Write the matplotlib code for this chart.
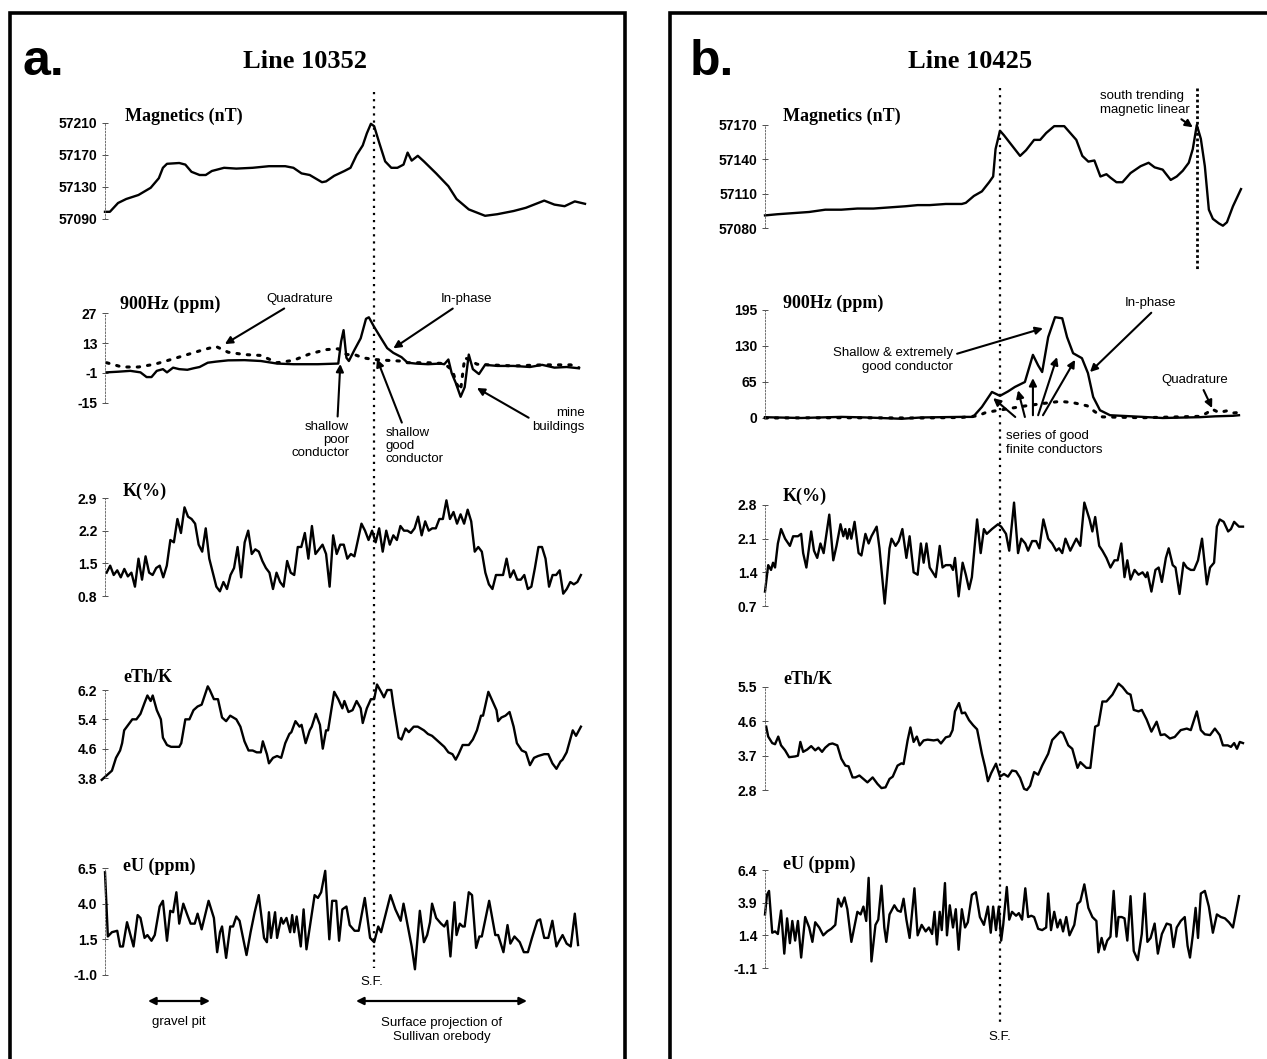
import matplotlib.pyplot as plt
from matplotlib.lines import Line2D
from matplotlib.patches import Rectangle
import numpy as np

W, H = 1267, 1059

# ---------------- Line 10352 (panel a) ----------------
mag_a_fid = [258, 270, 290, 310, 340, 370, 390, 400, 410, 440, 455, 470, 490, 505, 520, 550, 580, 620, 660, 700,
             720, 740, 760, 790, 800, 820, 845, 860, 875, 890, 900, 910, 918, 930, 945, 960, 975, 990, 1000, 1010,
             1025, 1040, 1070, 1100, 1120, 1150, 1190, 1220, 1260, 1290, 1310, 1335, 1360, 1385, 1410, 1435]
mag_a = [57099, 57099, 57110, 57115, 57120, 57129, 57141, 57154, 57159, 57160, 57158, 57149, 57145, 57145, 57150,
         57154, 57153, 57154, 57156, 57156, 57154, 57147, 57145, 57136, 57137, 57144, 57150, 57154, 57170, 57182,
         57197, 57209, 57206, 57186, 57162, 57154, 57154, 57158, 57173, 57163, 57169, 57162, 57147, 57131, 57115,
         57102, 57094, 57096, 57100, 57104, 57108, 57113, 57108, 57106, 57112, 57109]

hz_a_fid = [262, 290, 320, 345, 360, 372, 385, 400, 410, 425, 440, 460, 475, 490, 510, 530, 560, 600, 640, 680,
            720, 780, 830, 837, 843, 850, 856, 870, 885, 898, 905, 918, 935, 950, 965, 985, 1000, 1020, 1050, 1080,
            1090, 1100, 1108, 1118, 1130, 1140, 1150, 1160, 1175, 1190, 1220, 1260, 1300, 1330, 1360, 1390, 1420]
hz_a_inphase = [-0.7, -0.4, 0.0, -0.7, -2.9, -2.9, 0.0, 0.8, -0.7, 1.5, 0.8, 0.5, 1.2, 1.8, 3.8, 4.3, 4.9, 5.0,
                4.6, 3.4, 3.1, 3.1, 3.4, 13.7, 19.0, 6.1, 4.6, 9.9, 15.2, 24.3, 25.0, 20.5, 15.2, 10.6, 8.4, 6.4,
                3.8, 3.4, 3.1, 3.4, 3.1, 5.3, -1.0, -5.6, -12.1, -7.6, 7.6, 0.8, -1.5, 2.8, 2.3, 2.3, 1.8, 2.8,
                1.5, 1.8, 1.2]
hz_a_quad_fid = [262, 300, 340, 380, 420, 460, 500, 530, 560, 600, 640, 680, 720, 760, 800, 830, 850, 870, 890,
                 918, 950, 980, 1000, 1050, 1090, 1110, 1120, 1130, 1140, 1150, 1170, 1200, 1260, 1330, 1400, 1420]
hz_a_quad = [3.8, 1.8, 1.8, 3.1, 5.3, 7.6, 9.9, 11.4, 8.7, 7.6, 7.2, 3.8, 4.9, 7.9, 9.9, 10.3, 7.6, 7.6, 6.1,
             5.3, 4.9, 4.6, 3.8, 3.8, 3.4, 0.2, -6.0, -9.0, 6.1, 5.3, 3.1, 2.8, 2.3, 2.8, 2.8, 1.5]

k_a = [1.3, 1.45, 1.25, 1.35, 1.2, 1.38, 1.22, 1.3, 1.0, 1.6, 1.15, 1.65, 1.3, 1.25, 1.4, 1.45, 1.2, 1.45, 2.0,
       1.95, 2.45, 2.15, 2.7, 2.5, 2.45, 2.35, 1.9, 1.75, 2.25, 1.6, 1.3, 1.0, 0.9, 1.1, 0.95, 1.25, 1.4, 1.85,
       1.2, 1.95, 2.2, 1.7, 1.8, 1.75, 1.55, 1.4, 1.3, 0.95, 1.3, 1.1, 1.0, 1.55, 1.3, 1.25, 1.85, 1.85, 2.15,
       1.6, 2.3, 1.7, 1.8, 1.9, 1.7, 1.0, 2.1, 1.7, 1.9, 1.9, 1.6, 1.7, 1.65, 2.0, 2.35, 2.2, 2.0, 2.2, 1.95,
       2.25, 1.75, 2.2, 1.9, 2.1, 2.0, 2.3, 2.2, 2.2, 2.15, 2.25, 2.5, 2.1, 2.4, 2.2, 2.25, 2.25, 2.45, 2.45,
       2.85, 2.45, 2.6, 2.35, 2.55, 2.35, 2.65, 2.4, 1.75, 1.85, 1.75, 1.3, 1.05, 0.95, 1.25, 1.25, 1.25, 1.6,
       1.2, 1.35, 1.15, 1.15, 1.25, 0.95, 1.0, 1.4, 1.85, 1.85, 1.6, 1.0, 1.25, 1.25, 1.35, 0.85, 0.95, 1.1,
       1.05, 1.1, 1.25]
k_a_fid = np.linspace(262, 1425, len(k_a))

eth_a_fid = [250, 265, 275, 285, 295, 300, 305, 315, 325, 335, 345, 355, 362, 370, 375, 385, 395, 400, 410, 420,
             440, 445, 455, 465, 475, 485, 495, 510, 515, 525, 535, 545, 555, 565, 580, 590, 600, 610, 620, 630,
             640, 645, 655, 660, 670, 680, 690, 700, 710, 715, 725, 735, 740, 750, 760, 765, 775, 785, 792, 800,
             805, 820, 830, 840, 845, 855, 865, 875, 885, 890, 900, 910, 918, 925, 935, 942, 950, 960, 965, 978,
             985, 995, 1003, 1015, 1025, 1040, 1050, 1060, 1070, 1080, 1090, 1100, 1110, 1118, 1125, 1135, 1150,
             1160, 1170, 1180, 1185, 1198, 1210, 1218, 1222, 1230, 1240, 1250, 1260, 1268, 1280, 1290, 1300, 1310,
             1320, 1335, 1345, 1355, 1365, 1375, 1380, 1390, 1400, 1405, 1413, 1425]
eth_a = [3.75, 3.9, 4.0, 4.35, 4.55, 4.75, 5.1, 5.25, 5.4, 5.4, 5.55, 5.85, 6.05, 5.9, 6.05, 5.65, 5.4, 4.9, 4.7,
         4.65, 4.65, 4.75, 5.4, 5.4, 5.65, 5.75, 5.8, 6.3, 6.2, 5.95, 5.95, 5.45, 5.35, 5.5, 5.4, 5.2, 4.8, 4.55,
         4.55, 4.5, 4.5, 4.8, 4.45, 4.2, 4.35, 4.4, 4.35, 4.75, 5.0, 5.05, 5.35, 5.2, 5.25, 4.75, 5.1, 5.2, 5.55,
         5.25, 4.6, 5.1, 5.1, 6.15, 5.95, 5.7, 5.9, 5.6, 5.65, 5.9, 5.7, 5.3, 5.7, 5.95, 5.95, 6.35, 6.15, 6.0,
         6.2, 6.2, 5.8, 4.9, 4.85, 5.15, 5.05, 5.2, 5.2, 5.1, 5.0, 4.95, 4.85, 4.75, 4.65, 4.5, 4.45, 4.3, 4.45,
         4.7, 4.7, 4.85, 5.1, 5.5, 5.5, 6.15, 5.85, 5.65, 5.35, 5.45, 5.5, 5.6, 5.2, 4.75, 4.55, 4.5, 4.15, 4.35,
         4.4, 4.45, 4.45, 4.2, 4.05, 4.25, 4.3, 4.5, 4.9, 5.1, 4.95, 5.2]

eu_a_fid = [258, 265, 275, 288, 295, 302, 312, 328, 338, 345, 355, 362, 372, 380, 392, 400, 410, 418, 425, 433,
            440, 450, 460, 468, 478, 485, 495, 512, 525, 533, 540, 545, 555, 565, 572, 580, 588, 605, 615, 625,
            635, 648, 655, 660, 665, 675, 680, 690, 695, 703, 712, 717, 722, 728, 738, 745, 752, 772, 780, 788,
            798, 808, 815, 825, 832, 840, 850, 858, 870, 880, 895, 908, 918, 928, 935, 958, 970, 983, 990, 1000,
            1010, 1018, 1030, 1040, 1048, 1055, 1060, 1070, 1082, 1090, 1097, 1105, 1115, 1120, 1128, 1135, 1140,
            1150, 1158, 1168, 1176, 1182, 1200, 1215, 1222, 1235, 1245, 1252, 1262, 1275, 1285, 1295, 1305, 1318,
            1325, 1335, 1345, 1355, 1365, 1370, 1380, 1390, 1400, 1410, 1418]
eu_a = [6.2, 1.7, 2.0, 2.1, 1.0, 1.0, 2.7, 1.0, 3.2, 3.0, 1.6, 1.8, 1.4, 1.8, 3.8, 4.2, 1.4, 3.5, 3.4, 4.8, 2.6,
        4.0, 3.2, 2.6, 2.6, 3.3, 2.2, 4.2, 3.0, 0.6, 2.0, 2.4, 0.2, 2.4, 2.4, 3.1, 2.8, 0.4, 2.0, 3.4, 4.6, 1.6,
        1.3, 3.4, 1.6, 3.4, 1.6, 3.0, 2.6, 3.0, 2.0, 3.2, 2.0, 3.1, 1.0, 3.6, 0.8, 4.6, 4.4, 4.8, 6.3, 1.5, 4.2,
        4.2, 1.4, 3.6, 3.8, 2.5, 2.1, 2.1, 4.4, 1.6, 1.3, 2.4, 2.0, 4.6, 3.6, 2.8, 4.0, 2.5, 1.0, -0.6, 3.5, 1.3,
        1.8, 2.7, 4.0, 3.0, 2.6, 2.4, 2.8, 0.3, 4.1, 1.8, 2.6, 2.4, 2.4, 4.8, 4.6, 0.9, 1.7, 1.7, 4.2, 1.8, 1.8,
        0.6, 2.5, 1.2, 1.7, 1.3, 0.6, 0.6, 1.6, 2.8, 2.9, 1.6, 1.6, 2.8, 1.0, 1.3, 1.8, 1.2, 1.0, 3.3, 1.1]

# ---------------- Line 10425 (panel b) ----------------
mag_b_fid = [310, 340, 380, 420, 460, 500, 540, 580, 620, 660, 690, 720, 760, 800, 810, 830, 850, 868, 878, 884,
             895, 905, 925, 945, 960, 980, 995, 1010, 1030, 1055, 1070, 1085, 1100, 1115, 1130, 1145, 1160, 1170,
             1185, 1200, 1220, 1245, 1265, 1280, 1300, 1320, 1335, 1350, 1365, 1375, 1385, 1395, 1405, 1415, 1425,
             1440, 1450, 1460, 1475, 1495]
mag_b = [57091, 57092, 57093, 57094, 57096, 57096, 57097, 57097, 57098, 57099, 57100, 57100, 57101, 57101, 57102,
         57108, 57112, 57120, 57125, 57149, 57165, 57161, 57152, 57143, 57148, 57157, 57157, 57163, 57169, 57169,
         57163, 57157, 57143, 57138, 57139, 57125, 57127, 57124, 57120, 57120, 57128, 57134, 57137, 57133, 57131,
         57122, 57125, 57130, 57137, 57149, 57170, 57158, 57134, 57096, 57088, 57084, 57082, 57085, 57099, 57114]

hz_b_fid = [310, 400, 500, 560, 650, 700, 800, 828, 850, 875, 895, 915, 932, 957, 977, 990, 1000, 1015, 1032, 1050,
            1062, 1077, 1099, 1114, 1127, 1144, 1169, 1250, 1300, 1393, 1430, 1475, 1490]
hz_b_inphase = [1.4, 0.0, 2.0, 1.0, -1.4, 1.0, 2.0, 2.0, 20, 47, 40, 48, 56, 65, 114, 95, 83, 146, 182, 180,
                146, 117, 108, 81, 38, 14, 5, 2.0, 0.0, 1.5, 3.0, 4.0, 5.0]
hz_b_quad_fid = [310, 500, 700, 800, 840, 860, 900, 960, 1000, 1044, 1075, 1112, 1130, 1150, 1250, 1393, 1410,
                 1423, 1440, 1460, 1475, 1490]
hz_b_quad = [0, 0.5, 0, 1, 4, 10, 15, 22, 26, 30, 28, 22, 12, 2, 0.5, 3, 9, 16, 10, 13, 9, 10]

k_b_fid = [310, 318, 325, 330, 335, 342, 350, 360, 368, 372, 380, 392, 400, 405, 413, 425, 432, 440, 448, 456,
           470, 480, 488, 498, 505, 510, 515, 520, 525, 533, 543, 550, 560, 568, 575, 588, 595, 608, 620, 625,
           635, 643, 652, 662, 670, 680, 690, 698, 705, 712, 720, 735, 745, 752, 760, 772, 778, 783, 792, 802,
           810, 818, 825, 838, 847, 855, 862, 875, 890, 898, 910, 918, 930, 940, 948, 958, 965, 975, 985, 993,
           1003, 1015, 1025, 1035, 1042, 1050, 1058, 1070, 1085, 1095, 1105, 1118, 1125, 1132, 1142, 1150, 1160,
           1170, 1180, 1188, 1197, 1205, 1212, 1220, 1230, 1240, 1250, 1258, 1262, 1272, 1282, 1290, 1298, 1308,
           1315, 1325, 1332, 1342, 1352, 1360, 1370, 1378, 1388, 1398, 1410, 1418, 1428, 1435, 1442, 1452, 1463,
           1470, 1478, 1490, 1500]
k_b = [1.0, 1.55, 1.45, 1.6, 1.5, 2.0, 2.3, 2.1, 2.0, 1.95, 2.15, 2.15, 2.2, 1.8, 1.5, 2.25, 1.85, 1.7, 2.0, 1.8,
       2.6, 1.65, 1.95, 2.4, 2.15, 2.3, 2.1, 2.3, 2.1, 2.45, 1.8, 1.75, 2.2, 2.0, 2.15, 2.35, 1.9, 0.75, 1.9, 2.1,
       1.95, 2.05, 2.3, 1.7, 2.15, 1.4, 1.35, 2.0, 1.6, 2.0, 1.5, 1.3, 1.95, 1.5, 1.55, 1.55, 1.45, 1.7, 0.9, 1.6,
       1.35, 1.05, 1.3, 2.5, 1.8, 2.3, 2.2, 2.3, 2.4, 2.35, 2.2, 1.85, 2.85, 1.8, 2.1, 2.0, 1.85, 2.05, 2.05, 1.9,
       2.5, 2.1, 2.0, 1.85, 1.9, 1.8, 2.1, 1.85, 2.1, 1.95, 2.85, 2.5, 2.25, 2.55, 1.95, 1.85, 1.7, 1.5, 1.65,
       1.65, 2.0, 1.3, 1.65, 1.25, 1.45, 1.35, 1.4, 1.3, 1.4, 1.0, 1.45, 1.5, 1.2, 1.7, 1.9, 1.55, 1.5, 0.95, 1.6,
       1.5, 1.45, 1.45, 1.65, 2.1, 1.15, 1.5, 1.6, 2.35, 2.5, 2.45, 2.25, 2.3, 2.45, 2.35, 2.35]

eth_b_fid = [313, 318, 328, 335, 343, 350, 360, 370, 385, 392, 398, 405, 415, 425, 435, 443, 452, 460, 470, 478,
             490, 500, 510, 518, 528, 535, 545, 555, 565, 578, 590, 600, 610, 620, 628, 640, 650, 655, 665, 672,
             680, 688, 695, 705, 715, 730, 740, 748, 760, 770, 777, 783, 793, 800, 808, 818, 828, 838, 850, 858,
             865, 873, 885, 895, 905, 915, 925, 935, 945, 955, 962, 970, 980, 990, 1000, 1015, 1025, 1045, 1052,
             1065, 1075, 1088, 1095, 1110, 1120, 1132, 1140, 1150, 1160, 1175, 1190, 1200, 1212, 1220, 1228, 1240,
             1248, 1260, 1272, 1285, 1295, 1305, 1318, 1330, 1345, 1360, 1370, 1385, 1395, 1405, 1418, 1430, 1442,
             1450, 1462, 1470, 1478, 1485, 1492, 1500]
eth_b = [4.46, 4.2, 4.03, 4.0, 4.2, 3.97, 3.84, 3.66, 3.68, 3.7, 4.06, 3.8, 3.86, 3.95, 3.84, 3.91, 3.8, 3.91, 4.0,
         4.02, 3.97, 3.62, 3.44, 3.42, 3.13, 3.13, 3.18, 3.09, 3.0, 3.13, 2.96, 2.85, 2.87, 3.09, 3.15, 3.44, 3.5,
         3.48, 4.1, 4.44, 4.06, 4.2, 3.97, 4.1, 4.12, 4.1, 4.12, 4.02, 4.18, 4.21, 4.37, 4.86, 5.08, 4.81, 4.83,
         4.63, 4.5, 4.39, 3.75, 3.4, 3.03, 3.24, 3.49, 3.15, 3.22, 3.15, 3.31, 3.29, 3.12, 2.83, 2.8, 2.91, 3.27,
         3.2, 3.44, 3.75, 4.11, 4.33, 4.29, 3.97, 3.88, 3.38, 3.53, 3.38, 3.38, 4.46, 4.5, 5.12, 5.12, 5.3, 5.59,
         5.5, 5.34, 5.3, 4.9, 4.86, 4.9, 4.65, 4.33, 4.59, 4.24, 4.26, 4.15, 4.19, 4.37, 4.41, 4.37, 4.86, 4.37,
         4.26, 4.24, 4.41, 4.24, 3.97, 3.97, 3.93, 4.03, 3.88, 4.06, 4.03]

eu_b_fid = [310, 315, 320, 328, 335, 342, 350, 358, 365, 372, 378, 385, 392, 400, 410, 420, 428, 435, 445, 455,
            465, 475, 485, 492, 500, 508, 515, 525, 540, 548, 555, 562, 568, 575, 585, 592, 600, 607, 612, 620,
            632, 640, 648, 655, 662, 670, 682, 690, 700, 710, 718, 726, 732, 738, 745, 750, 758, 763, 770, 778,
            785, 792, 800, 808, 815, 825, 835, 845, 855, 865, 872, 878, 885, 892, 898, 903, 912, 918, 925, 935,
            942, 950, 958, 965, 973, 980, 990, 1000, 1010, 1015, 1022, 1030, 1038, 1045, 1052, 1060, 1068, 1080,
            1088, 1095, 1105, 1115, 1125, 1135, 1140, 1148, 1155, 1162, 1170, 1178, 1185, 1190, 1198, 1205, 1212,
            1220, 1228, 1238, 1248, 1255, 1262, 1270, 1280, 1288, 1298, 1310, 1320, 1327, 1335, 1345, 1355, 1362,
            1368, 1375, 1382, 1388, 1395, 1405, 1415, 1425, 1435, 1445, 1455, 1465, 1475, 1490]
eu_b = [3.0, 4.5, 4.8, 1.6, 1.7, 1.5, 3.3, 0.0, 2.7, 0.8, 2.5, 1.0, 2.5, -0.3, 2.8, 2.0, 0.9, 2.4, 2.0, 1.4, 1.7,
        1.9, 2.2, 4.2, 3.6, 4.3, 3.4, 0.9, 3.2, 3.0, 3.6, 2.5, 5.8, -0.6, 2.2, 2.6, 5.2, 2.0, 0.9, 3.0, 3.7, 3.3,
        3.2, 4.2, 2.6, 1.2, 5.0, 1.4, 2.2, 1.7, 2.0, 1.5, 3.2, 0.7, 3.2, 1.8, 5.4, 1.4, 3.7, 2.0, 3.4, 0.3, 3.4,
        2.0, 2.4, 4.5, 4.7, 2.8, 2.2, 3.6, 1.6, 3.6, 1.8, 3.6, 1.0, 2.2, 5.1, 2.6, 3.2, 2.9, 3.1, 2.6, 5.0, 2.8,
        2.9, 2.8, 1.9, 1.8, 2.0, 4.6, 1.8, 3.2, 2.0, 2.6, 1.7, 2.8, 1.4, 2.2, 3.8, 4.0, 5.3, 3.5, 2.8, 2.5, 0.1,
        1.2, 0.3, 1.0, 1.3, 4.8, 1.3, 2.8, 2.8, 2.7, 1.0, 4.4, 0.2, -0.5, 1.5, 4.6, 0.9, 1.2, 2.3, 0.0, 1.5, 2.3,
        2.2, 0.5, 2.0, 2.5, 2.8, 0.6, -0.3, 1.4, 3.5, 1.2, 4.6, 4.8, 3.6, 1.6, 3.0, 2.8, 2.7, 2.4, 2.0, 4.4]

# tick values
ticks_a = {'mag': [57090, 57130, 57170, 57210], 'hz': [-15, -1, 13, 27], 'k': [0.8, 1.5, 2.2, 2.9],
           'eth': [3.8, 4.6, 5.4, 6.2], 'eu': [-1.0, 1.5, 4.0, 6.5]}
ticks_b = {'mag': [57080, 57110, 57140, 57170], 'hz': [0, 65, 130, 195], 'k': [0.7, 1.4, 2.1, 2.8],
           'eth': [2.8, 3.7, 4.6, 5.5], 'eu': [-1.1, 1.4, 3.9, 6.4]}
sf_a, sf_b, linear_b = 918, 895, 1385

SERIF = 'Liberation Serif'
SANS = 'Liberation Sans'
LW = 1.7


def box(x0, y0, x1, y1):
    return [x0 / W, 1 - y1 / H, (x1 - x0) / W, (y1 - y0) / H]


def trace_axes(x0, x1, ytop, ybot, ticks, xlim, fmt):
    ax = fig.add_axes(box(x0, ytop, x1, ybot))
    ax.set_xlim(*xlim)
    ax.set_ylim(ticks[0], ticks[-1])
    ax.set_yticks(ticks)
    ax.set_yticklabels([fmt.format(t) for t in ticks], family=SANS, fontsize=10, weight='bold')
    for s in ['top', 'right', 'bottom']:
        ax.spines[s].set_visible(False)
    ax.spines['left'].set_linestyle((0, (2, 2)))
    ax.spines['left'].set_linewidth(0.6)
    ax.spines['left'].set_color('0.35')
    ax.tick_params(axis='y', direction='inout', length=5, width=0.7, color='0.3', pad=3)
    ax.set_xticks([])
    ax.patch.set_visible(False)
    return ax


def line(ax, x, y, **kw):
    ax.plot(x, y, color='k', lw=LW, clip_on=False, solid_joinstyle='round', **kw)


def label(x, y, s, size=13):
    fig.text(x / W, 1 - y / H, s, family=SERIF, weight='bold', fontsize=size, va='center', ha='left')


def note(ax, s, xy, txt, ha='center', relpos=(0.5, 0.5), va='center'):
    ax.annotate(s, xy=xy, xycoords='data', xytext=(txt[0], H - txt[1]), textcoords='figure pixels',
                ha=ha, va=va, family=SANS, fontsize=9.5, linespacing=1.15,
                arrowprops=dict(arrowstyle='-|>', color='k', lw=1.5, mutation_scale=11,
                                shrinkA=1, shrinkB=0, relpos=relpos))


def vline(ax, fid, y0, y1, style):
    xf = ax.transData.transform((fid, 0))[0] / W
    fig.add_artist(Line2D([xf, xf], [1 - y0 / H, 1 - y1 / H], transform=fig.transFigure,
                          color='k', **style))


fig = plt.figure(figsize=(W / 100, H / 100), dpi=100)

# panel frames
for x0 in (10, 670):
    fig.add_artist(Rectangle((x0 / W, -0.02), 615 / W, 1 - 13 / H + 0.02, transform=fig.transFigure,
                             fill=False, lw=2.6, ec='k'))

# ---- panel a ----
xa0, xa1, xlim_a = 105, 585, (258, 1435)
a_mag = trace_axes(xa0, xa1, 123, 219, ticks_a['mag'], xlim_a, '{:d}')
line(a_mag, mag_a_fid, mag_a)
a_hz = trace_axes(xa0, xa1, 313, 403, ticks_a['hz'], xlim_a, '{:d}')
line(a_hz, hz_a_fid, hz_a_inphase)
a_hz.plot(hz_a_quad_fid, hz_a_quad, color='k', lw=2.2, ls=(0, (0.8, 2.6)), dash_capstyle='round', clip_on=False)
a_k = trace_axes(xa0, xa1, 498, 596, ticks_a['k'], xlim_a, '{:.1f}')
line(a_k, k_a_fid, k_a)
a_eth = trace_axes(xa0, xa1, 690, 778, ticks_a['eth'], xlim_a, '{:.1f}')
line(a_eth, eth_a_fid, eth_a)
a_eu = trace_axes(xa0, xa1, 868, 975, ticks_a['eu'], xlim_a, '{:.1f}')
line(a_eu, eu_a_fid, eu_a)

fig.text(22 / W, 1 - 62 / H, 'a.', family=SANS, weight='bold', fontsize=36, va='center')
fig.text(305 / W, 1 - 62 / H, 'Line 10352', family=SERIF, weight='bold', fontsize=19, ha='center', va='center')
label(125, 116, 'Magnetics (nT)')
label(120, 304, '900Hz (ppm)')
label(123, 491, 'K(%)')
label(123, 677, 'eTh/K')
label(123, 866, 'eU (ppm)')
vline(a_mag, sf_a, 92, 968, dict(ls=(0, (1, 2.2)), lw=1.6))
fig.text(372 / W, 1 - 982 / H, 'S.F.', family=SANS, fontsize=9.5, ha='center', va='center')

note(a_hz, 'Quadrature', (552, 12.5), (300, 299))
note(a_hz, 'In-phase', (965, 10.5), (467, 299))
note(a_hz, 'shallow\npoor\nconductor', (835, 3.2), (349, 440), ha='right', relpos=(0.8, 1.0))
note(a_hz, 'shallow\ngood\nconductor', (925, 5.5), (386, 446), ha='left', relpos=(0.3, 1.0))
note(a_hz, 'mine\nbuildings', (1170, -8.0), (585, 420), ha='right', relpos=(0.0, 0.5))

for x0, x1 in ((148, 210), (356, 527)):
    a_eu.annotate('', xy=(x1, H - 1001), xytext=(x0, H - 1001), xycoords='figure pixels',
                  textcoords='figure pixels',
                  arrowprops=dict(arrowstyle='<|-|>', color='k', lw=1.6, mutation_scale=11, shrinkA=0, shrinkB=0))
fig.text(179 / W, 1 - 1022 / H, 'gravel pit', family=SANS, fontsize=9.5, ha='center', va='center')
fig.text(442 / W, 1 - 1030 / H, 'Surface projection of\nSullivan orebody', family=SANS, fontsize=9.5,
         ha='center', va='center', linespacing=1.3)

# ---- panel b ----
xb0, xb1, xlim_b = 765, 1243, (310, 1500)
b_mag = trace_axes(xb0, xb1, 125, 228, ticks_b['mag'], xlim_b, '{:d}')
line(b_mag, mag_b_fid, mag_b)
b_hz = trace_axes(xb0, xb1, 310, 418, ticks_b['hz'], xlim_b, '{:d}')
b_hz.plot(hz_b_quad_fid, hz_b_quad, color='k', lw=2.2, ls=(0, (0.8, 2.6)), dash_capstyle='round', clip_on=False)
line(b_hz, hz_b_fid, hz_b_inphase)
b_k = trace_axes(xb0, xb1, 505, 606, ticks_b['k'], xlim_b, '{:.1f}')
line(b_k, k_b_fid, k_b)
b_eth = trace_axes(xb0, xb1, 687, 790, ticks_b['eth'], xlim_b, '{:.1f}')
line(b_eth, eth_b_fid, eth_b)
b_eu = trace_axes(xb0, xb1, 870, 968, ticks_b['eu'], xlim_b, '{:.1f}')
line(b_eu, eu_b_fid, eu_b)

fig.text(690 / W, 1 - 62 / H, 'b.', family=SANS, weight='bold', fontsize=36, va='center')
fig.text(970 / W, 1 - 62 / H, 'Line 10425', family=SERIF, weight='bold', fontsize=19, ha='center', va='center')
label(783, 116, 'Magnetics (nT)')
label(783, 303, '900Hz (ppm)')
label(783, 496, 'K(%)')
label(783, 679, 'eTh/K')
label(783, 864, 'eU (ppm)')
vline(b_mag, sf_b, 88, 1025, dict(ls=(0, (1, 2.2)), lw=1.6))
vline(b_mag, linear_b, 88, 270, dict(ls=(0, (1, 1)), lw=2.0))
fig.text(1000 / W, 1 - 1037 / H, 'S.F.', family=SANS, fontsize=9.5, ha='center', va='center')

note(b_mag, 'south trending\nmagnetic linear', (1375, 57168), (1100, 103), ha='left', relpos=(0.85, 0.0))
note(b_hz, 'Shallow & extremely\ngood conductor', (1002, 162), (953, 360), ha='right', relpos=(1.0, 0.7))
note(b_hz, 'In-phase', (1119, 83), (1150, 303), relpos=(0.6, 0.0))
note(b_hz, 'Quadrature', (1423, 18), (1195, 380), relpos=(0.6, 0.0))
fig.text(1006 / W, 1 - 443 / H, 'series of good\nfinite conductors', family=SANS, fontsize=9.5,
         ha='left', va='center', linespacing=1.3)
for tail, head in (((933, 1.8), (878, 36)), ((957, 1.8), (940, 50)), ((977, 5), (977, 72)),
                   ((990, 5), (1037, 110)), ((1002, 5), (1082, 105))):
    b_hz.annotate('', xy=head, xytext=tail,
                  arrowprops=dict(arrowstyle='-|>', color='k', lw=1.5, mutation_scale=11, shrinkA=0, shrinkB=0))

fig.savefig('out.png', dpi=100)
